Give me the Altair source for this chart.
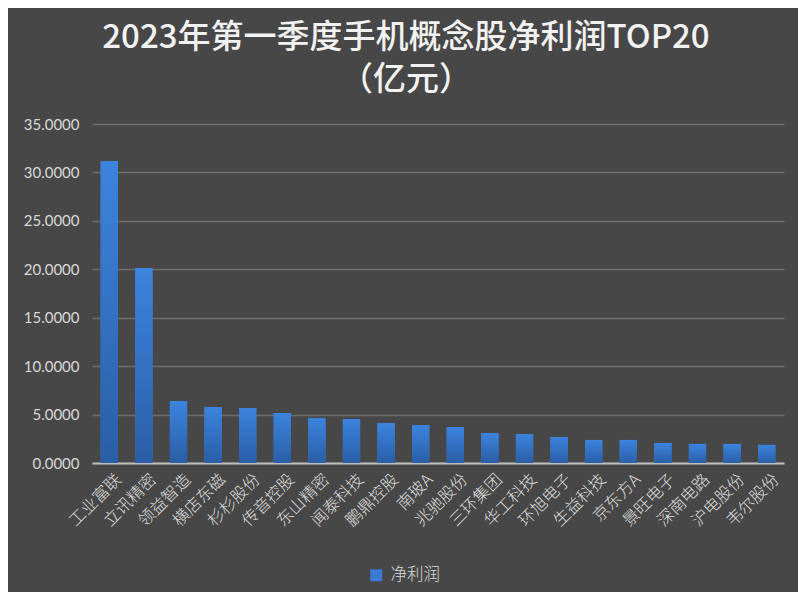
import altair as alt
import pandas as pd

companies = ["工业富联", "立讯精密", "领益智造", "横店东磁", "杉杉股份", "传音控股", "东山精密",
             "闻泰科技", "鹏鼎控股", "南玻A", "兆驰股份", "三环集团", "华工科技", "环旭电子",
             "生益科技", "京东方A", "景旺电子", "深南电路", "沪电股份", "韦尔股份"]
profits = [31.18, 20.13, 6.40, 5.78, 5.68, 5.16, 4.65, 4.54, 4.13, 3.91,
           3.70, 3.09, 2.99, 2.68, 2.38, 2.38, 2.07, 1.97, 1.97, 1.87]
series_name = "净利润"
y_ticks = [0, 5, 10, 15, 20, 25, 30, 35]

df = pd.DataFrame({"company": companies, "profit": profits, "series": [series_name] * len(companies)})

x_enc = alt.X("company:N", sort=companies,
              scale=alt.Scale(paddingInner=0.5, paddingOuter=0.25),
              axis=alt.Axis(title=None, labelAngle=315, labelAlign="right", labelBaseline="top",
                            labelFont="Noto Sans CJK SC", labelFontSize=16.5, labelFontWeight=300,
                            labelColor="#dedede", labelPadding=8, labelOffset=4,
                            ticks=False, domain=True, domainColor="#bfbfbf",
                            domainWidth=2, grid=False))
y_enc = alt.Y("profit:Q", scale=alt.Scale(domain=[0, 35], nice=False),
              axis=alt.Axis(title=None, values=y_ticks, format=".4f", labelFont="Lato",
                            labelFontSize=15, labelColor="#d9d9d9", labelPadding=13,
                            ticks=False, domain=False, grid=True, gridColor="#6e6e6e",
                            gridWidth=1.5))

base_bars = alt.Chart(df).mark_bar().encode(
    x=x_enc, y=y_enc,
    color=alt.Color("series:N", scale=alt.Scale(range=["#3a7bd5"]),
                    legend=alt.Legend(title=None, orient="none", legendX=276, legendY=443,
                                      symbolType="square", symbolSize=144, symbolStrokeWidth=0,
                                      labelFont="Noto Sans CJK SC", labelFontSize=16.5,
                                      labelFontWeight=300, labelColor="#d9d9d9", labelOffset=6)))

grad = alt.Gradient(gradient="linear",
                    stops=[alt.GradientStop(color="#2a5ea6", offset=0),
                           alt.GradientStop(color="#3c84de", offset=1)],
                    x1=1, x2=1, y1=1, y2=0)
grad_bars = alt.Chart(df).mark_bar(color=grad).encode(x=x_enc, y=y_enc)

chart = alt.layer(base_bars, grad_bars).properties(
    width=692, height=339,
    autosize=alt.AutoSizeParams(type="none"),
    padding={"left": 84, "top": 116, "right": 14, "bottom": 129},
    background="#474747",
    title=alt.TitleParams(text=["2023年第一季度手机概念股净利润TOP20", "（亿元）"],
                          font="Noto Sans CJK SC", fontSize=33, fontWeight=500,
                          color="#f2f2f2", lineHeight=42, anchor="middle", frame="group",
                          dx=-32, offset=20)
).configure_view(stroke=None)

chart.save("out.html", embed_options={"renderer": "svg", "actions": False})
